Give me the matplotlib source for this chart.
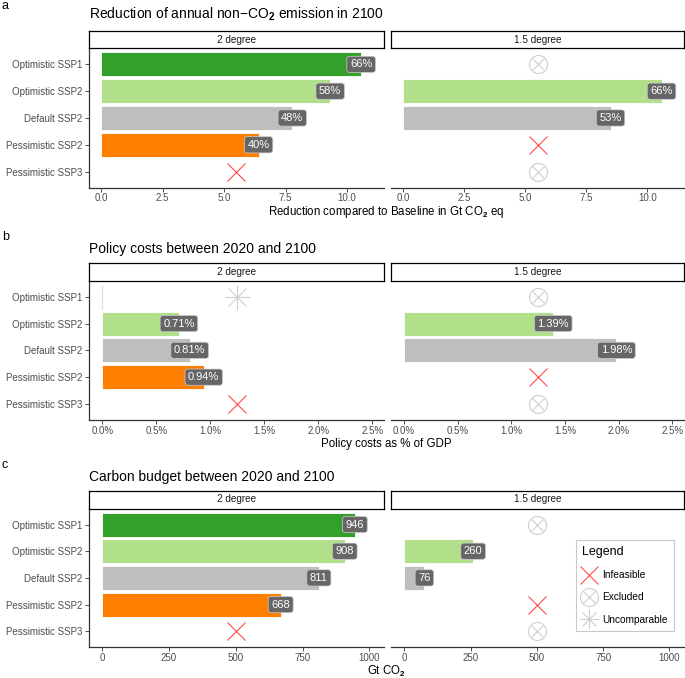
import matplotlib
matplotlib.use('Agg')
import matplotlib.pyplot as plt
from matplotlib.lines import Line2D
from matplotlib.ticker import FixedLocator

plt.rcParams['font.family'] = ['Liberation Sans', 'DejaVu Sans']
plt.rcParams['mathtext.fontset'] = 'custom'
plt.rcParams['mathtext.rm'] = 'Liberation Sans'
plt.rcParams['mathtext.bf'] = 'Liberation Sans:bold'
plt.rcParams['mathtext.it'] = 'Liberation Sans:italic'

# ---------------- data ----------------
scenarios = ["Optimistic SSP1", "Optimistic SSP2", "Default SSP2",
             "Pessimistic SSP2", "Pessimistic SSP3"]
bar_colors = ["#33a02c", "#b2df8a", "#bebebe", "#ff7f00", "#bebebe"]
facets = ["2 degree", "1.5 degree"]

# status per scenario: "ok", "infeasible", "excluded", "uncomparable"
# panel a: reduction of non-CO2 emission (Gt CO2 eq)
a_2deg_vals = [10.57, 9.31, 7.77, 6.40, None]
a_2deg_labels = ["66%", "58%", "48%", "40%", None]
a_2deg_status = ["ok", "ok", "ok", "ok", "infeasible"]
a_15deg_vals = [None, 10.58, 8.49, None, None]
a_15deg_labels = [None, "66%", "53%", None, None]
a_15deg_status = ["excluded", "ok", "ok", "infeasible", "excluded"]
a_marker_x = 5.5
a_ticks = [0.0, 2.5, 5.0, 7.5, 10.0]
a_ticklabels = ["0.0", "2.5", "5.0", "7.5", "10.0"]

# panel b: policy costs (% of GDP)
b_2deg_vals = [0.0, 0.71, 0.81, 0.94, None]
b_2deg_labels = [None, "0.71%", "0.81%", "0.94%", None]
b_2deg_status = ["uncomparable", "ok", "ok", "ok", "infeasible"]
b_15deg_vals = [None, 1.39, 1.98, None, None]
b_15deg_labels = [None, "1.39%", "1.98%", None, None]
b_15deg_status = ["excluded", "ok", "ok", "infeasible", "excluded"]
b_marker_x = 1.25
b_ticks = [0.0, 0.5, 1.0, 1.5, 2.0, 2.5]
b_ticklabels = ["0.0%", "0.5%", "1.0%", "1.5%", "2.0%", "2.5%"]

# panel c: carbon budget (Gt CO2)
c_2deg_vals = [946, 908, 811, 668, None]
c_2deg_labels = ["946", "908", "811", "668", None]
c_2deg_status = ["ok", "ok", "ok", "ok", "infeasible"]
c_15deg_vals = [None, 260, 76, None, None]
c_15deg_labels = [None, "260", "76", None, None]
c_15deg_status = ["excluded", "ok", "ok", "infeasible", "excluded"]
c_marker_x = 500
c_ticks = [0, 250, 500, 750, 1000]
c_ticklabels = ["0", "250", "500", "750", "1000"]

# ---------------- layout ----------------
W, H = 685, 678
fig = plt.figure(figsize=(W / 100, H / 100), dpi=100)


def rect(x0, y0, x1, y1):
    return [x0 / W, 1 - y1 / H, (x1 - x0) / W, (y1 - y0) / H]


AXIS_COL = '#333333'
TICK_COL = '#4d4d4d'
RED = '#ff4a4a'
LGREY = '#cfcfcf'


def draw_marker(ax, kind, x, y):
    if kind == "infeasible":
        ax.plot([x], [y], marker='x', ms=13, mew=0.8, color=RED, zorder=4)
    elif kind == "excluded":
        ax.plot([x], [y], marker='o', ms=13, mfc='none', mec=LGREY, mew=0.8, zorder=4)
        ax.plot([x], [y], marker='x', ms=9.2, mew=0.8, color=LGREY, zorder=4)
    elif kind == "uncomparable":
        ax.plot([x], [y], marker='+', ms=18, mew=0.8, color=LGREY, zorder=4)
        ax.plot([x], [y], marker='x', ms=12.7, mew=0.8, color=LGREY, zorder=4)


def draw_facet(ax, vals, labels, status, marker_x, xlim, ticks, ticklabels, left):
    ypos = list(range(len(scenarios)))
    for i in ypos:
        v = vals[i]
        if v is not None:
            if v == 0:
                ax.barh(i, v, height=0.9, color=bar_colors[i], edgecolor='#cfe8c2',
                        linewidth=0.8, zorder=2)
            else:
                ax.barh(i, v, height=0.9, color=bar_colors[i], edgecolor='white',
                        linewidth=0.6, zorder=2)
        if labels[i] is not None:
            ax.text(v, i, labels[i], ha='center', va='center', color='white',
                    fontsize=8, zorder=5,
                    bbox=dict(boxstyle='round,pad=0.28,rounding_size=0.25',
                              fc='#666666', ec='#cccccc', lw=0.5))
        if status[i] != "ok":
            draw_marker(ax, status[i], marker_x, i)
    ax.set_xlim(*xlim)
    ax.set_ylim(len(scenarios) - 0.4, -0.6)
    ax.xaxis.set_major_locator(FixedLocator(ticks))
    ax.set_xticklabels(ticklabels)
    ax.tick_params(axis='x', colors=AXIS_COL, labelcolor=TICK_COL, labelsize=7,
                   length=3, width=0.6, pad=1)
    for s in ['top', 'right']:
        ax.spines[s].set_visible(False)
    ax.spines['bottom'].set_color(AXIS_COL)
    ax.spines['bottom'].set_linewidth(0.9)
    if left:
        ax.set_yticks(ypos)
        ax.set_yticklabels(scenarios)
        ax.tick_params(axis='y', colors=AXIS_COL, labelcolor=TICK_COL, labelsize=7,
                       length=3, width=0.6, pad=2)
        ax.spines['left'].set_color(AXIS_COL)
        ax.spines['left'].set_linewidth(0.9)
    else:
        ax.set_yticks([])
        ax.spines['left'].set_visible(False)


def draw_strip(x0, x1, y0, y1, text):
    sax = fig.add_axes(rect(x0, y0, x1, y1))
    sax.set_xticks([])
    sax.set_yticks([])
    sax.set_zorder(5)
    for s in sax.spines.values():
        s.set_color('black')
        s.set_linewidth(0.9)
    sax.text(0.5, 0.5, text, ha='center', va='center', fontsize=7.2, color='#1a1a1a',
             transform=sax.transAxes)


LX0, LX1 = 89, 384
RX0, RX1 = 391, 684

panels = [
    dict(letter='a', letter_y=6, title="Reduction of annual non$-$CO$_\\mathbf{2}$ emission in 2100",
         title_y=14, strip=(31, 48.3), plot=(48.3, 187.7),
         xlabel="Reduction compared to Baseline in Gt CO$_\\mathbf{2}$ eq", xlabel_y=214.5,
         d2=(a_2deg_vals, a_2deg_labels, a_2deg_status),
         d15=(a_15deg_vals, a_15deg_labels, a_15deg_status),
         mx=a_marker_x, xlim=(-0.5, 11.5), ticks=a_ticks, tl=a_ticklabels),
    dict(letter='b', letter_y=237, title="Policy costs between 2020 and 2100",
         title_y=249, strip=(263.3, 280.7), plot=(280.7, 420),
         xlabel="Policy costs as % of GDP", xlabel_y=447,
         d2=(b_2deg_vals, b_2deg_labels, b_2deg_status),
         d15=(b_15deg_vals, b_15deg_labels, b_15deg_status),
         mx=b_marker_x, xlim=(-0.123, 2.61), ticks=b_ticks, tl=b_ticklabels),
    dict(letter='c', letter_y=465.5, title="Carbon budget between 2020 and 2100",
         title_y=476.5, strip=(490.5, 508.5), plot=(508.5, 647.3),
         xlabel="Gt CO$_\\mathbf{2}$", xlabel_y=674.5,
         d2=(c_2deg_vals, c_2deg_labels, c_2deg_status),
         d15=(c_15deg_vals, c_15deg_labels, c_15deg_status),
         mx=c_marker_x, xlim=(-50, 1055), ticks=c_ticks, tl=c_ticklabels),
]

for p in panels:
    fig.text(2 / W, 1 - p['letter_y'] / H, p['letter'], fontsize=9, ha='left', va='center')
    fig.text(LX0 / W, 1 - p['title_y'] / H, p['title'], fontsize=10, ha='left', va='center')
    axl = fig.add_axes(rect(LX0, p['plot'][0], LX1, p['plot'][1]))
    axr = fig.add_axes(rect(RX0, p['plot'][0], RX1, p['plot'][1]))
    draw_facet(axl, *p['d2'], p['mx'], p['xlim'], p['ticks'], p['tl'], True)
    draw_facet(axr, *p['d15'], p['mx'], p['xlim'], p['ticks'], p['tl'], False)
    draw_strip(LX0, LX1, p['strip'][0], p['strip'][1], facets[0])
    draw_strip(RX0, RX1, p['strip'][0], p['strip'][1], facets[1])
    fig.text((LX0 + RX1) / 2 / W, 1 - p['xlabel_y'] / H, p['xlabel'], fontsize=8.3,
             ha='center', va='baseline')

# legend
h_inf = Line2D([], [], ls='none', marker='x', ms=13, mew=0.8, color=RED)
h_exc = (Line2D([], [], ls='none', marker='o', ms=13, mfc='none', mec=LGREY, mew=0.8),
         Line2D([], [], ls='none', marker='x', ms=9.2, mew=0.8, color=LGREY))
h_unc = (Line2D([], [], ls='none', marker='+', ms=15, mew=0.8, color=LGREY),
         Line2D([], [], ls='none', marker='x', ms=10.6, mew=0.8, color=LGREY),
         Line2D([], [], ls='none', marker='.', ms=3, color=LGREY))
leg = fig.legend([h_inf, h_exc, h_unc], ["Infeasible", "Excluded", "Uncomparable"],
                 title="Legend", loc='upper left',
                 bbox_to_anchor=(576 / W, 1 - 540 / H), bbox_transform=fig.transFigure,
                 fontsize=7.3, title_fontsize=9, frameon=True, fancybox=False,
                 edgecolor='#bbbbbb', labelspacing=1.2, handlelength=1.4,
                 handletextpad=0.6, borderpad=0.6, borderaxespad=0,
                 alignment='left')
leg.get_frame().set_linewidth(0.8)

fig.savefig('out.png', dpi=100)
